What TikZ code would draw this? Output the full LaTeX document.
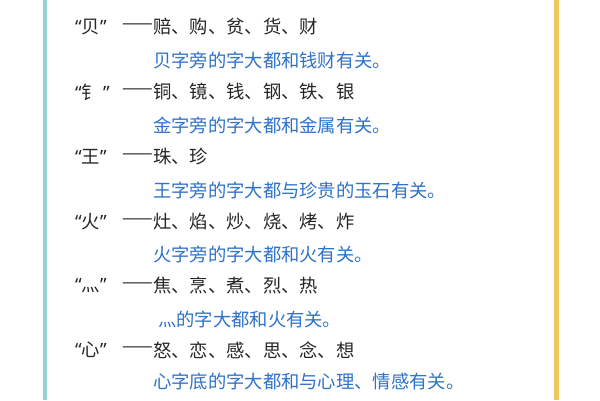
\documentclass[tikz,border=0pt]{standalone}
\usepackage{fontspec}
\newfontfamily\cjk{Noto Sans CJK SC}
\newfontfamily\lat{Noto Sans}
\definecolor{tealb}{HTML}{93D3D0}
\definecolor{yelb}{HTML}{EBC95E}
\definecolor{blu}{HTML}{2F72C8}
\newcommand{\myLq}{{\lat “}}
\newcommand{\myRq}{{\lat ”}}
\begin{document}
\begin{tikzpicture}[x=1pt,y=-1pt,
  blk/.style={anchor=west,inner sep=0,font=\cjk\fontsize{18.3}{18}\selectfont,text=black!85},
  dsh/.style={anchor=east,inner sep=0,font=\cjk\fontsize{18.3}{18}\selectfont,text=black!85},
  bl/.style={anchor=west,inner sep=0,font=\cjk\fontsize{18.3}{18}\selectfont,text=blu}]
\useasboundingbox (0,0) rectangle (600,400);
\fill[white] (0,0) rectangle (600,400);
\draw[tealb,line width=4] (45,0) -- (45,400);
\draw[yelb,line width=5] (556,0) -- (556,400);
\foreach \n/\y/\q/\l in {1/27/贝/赔、购、贫、货、财, 2/92/钅\,/铜、镜、钱、钢、铁、银, 3/157/王/珠、珍, 4/222/火/灶、焰、炒、烧、烤、炸, 5/286/灬/焦、烹、煮、烈、热, 6/350/心/怒、恋、感、思、念、想}{
  \node[blk] (q\n) at (75,\y) {\myLq\q\myRq};
  \node[blk] (l\n) at (153,\y) {\l};
  \node[dsh] (d\n) at (l\n.west) {——};
}
\node[bl] (b1) at (153,60) {贝字旁的字大都和钱财有关。};
\node[bl] (b2) at (153,125) {金字旁的字大都和金属有关。};
\node[bl] (b3) at (153,190) {王字旁的字大都与珍贵的玉石有关。};
\node[bl] (b4) at (153,254) {火字旁的字大都和火有关。};
\node[bl] (b5) at (158,319) {灬的字大都和火有关。};
\node[bl] (b6) at (153,382) {心字底的字大都和与心理、情感有关。};
\end{tikzpicture}
\end{document}
